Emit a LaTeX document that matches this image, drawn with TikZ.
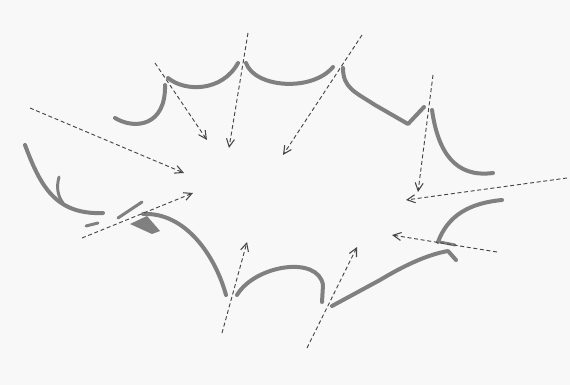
\documentclass[tikz,border=0pt]{standalone}
\usetikzlibrary{arrows.meta}

\definecolor{rimgray}{RGB}{128,128,128}
\definecolor{raygray}{RGB}{70,70,70}
\definecolor{paper}{RGB}{248,248,248}

\tikzset{
  rim/.style={color=rimgray, line width=3pt, line cap=round, line join=round},
  ray/.style={color=raygray, line width=0.7pt, densely dashed, -{Straight Barb[length=6pt,width=6pt,line width=0.8pt]}}
}

\begin{document}
\begin{tikzpicture}[x=0.75pt,y=0.75pt,yscale=-1,xscale=1]
\useasboundingbox (0,0) rectangle (570,385);
\fill [paper] (0,0) rectangle (570,385);

%Rim: upper left
\draw [rim] (115,118) .. controls (135,130) and (166,126) .. (165,85) ;
\draw [rim] (168,78) .. controls (185,92) and (222,92) .. (238,63) ;
%Rim: upper middle
\draw [rim] (246,63) .. controls (255,88) and (312,92) .. (333,67) ;
%Rim: upper right
\draw [rim] (343,68) .. controls (343,88) and (355,92) .. (375,105) -- (408,124) -- (424,107) ;
\draw [rim] (432,110) .. controls (438,152) and (455,178) .. (493,173) ;
%Rim: left
\draw [rim] (25,145) .. controls (40,185) and (55,215) .. (103,213) ;
\draw [rim, line width=2.2pt] (59,177) .. controls (56,188) and (58,196) .. (63,203) ;
\draw [rim, line width=2.2pt] (86,226) -- (98,223) ;
\draw [rim, line width=2.2pt] (118,218) -- (142,202) ;
%Rim: lower left
\fill [rimgray] (130,224) -- (147,216) -- (160,231) -- (152,234) -- cycle ;
\draw [rim] (143,214) .. controls (185,212) and (215,255) .. (226,295) ;
%Rim: lower middle
\draw [rim] (237,295) .. controls (255,265) and (318,255) .. (323,285) -- (322,302) ;
%Rim: lower right
\draw [rim] (332,306) -- (380,280) .. controls (400,268) and (425,255) .. (448,251) -- (456,260) ;
\draw [rim] (438,242) .. controls (448,215) and (470,203) .. (502,200) ;
\draw [rim, line width=2.2pt] (440,242) -- (455,245) ;

%Rays
\draw [ray] (30,108) -- (184,173) ;
\draw [ray] (155,63) -- (207,140) ;
\draw [ray] (248,33) -- (229,148) ;
\draw [ray] (362,35) -- (283,155) ;
\draw [ray] (433,75) -- (418,192) ;
\draw [ray] (567,178) -- (406,200) ;
\draw [ray] (497,252) -- (392,235) ;
\draw [ray] (307,348) -- (357,247) ;
\draw [ray] (222,333) -- (247,242) ;
\draw [ray] (82,238) -- (193,193) ;

\end{tikzpicture}
\end{document}
